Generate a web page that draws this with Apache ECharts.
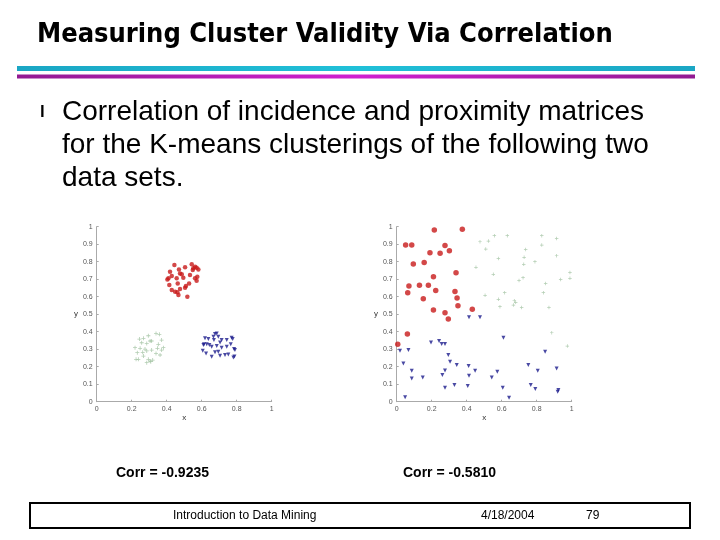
<!DOCTYPE html>
<html style="height: 100%">
<head>
<meta charset="utf-8">
<script src="https://cdn.jsdelivr.net/npm/echarts@6/dist/echarts.min.js"></script>
</head>
<body style="height: 100%; margin: 0; background: #fff">
<div id="container" style="width: 720px; height: 540px"></div>
<script type="text/javascript">

// left data set: three well separated clusters
var redA = [[0.444,0.781],[0.419,0.743],[0.470,0.756],[0.505,0.768],[0.476,0.733],[0.543,0.785],
  [0.552,0.762],[0.571,0.766],[0.581,0.756],[0.562,0.771],[0.410,0.705],[0.429,0.718],[0.457,0.705],
  [0.495,0.709],[0.533,0.724],[0.562,0.705],[0.571,0.691],[0.404,0.699],[0.415,0.667],[0.463,0.676],
  [0.510,0.661],[0.528,0.676],[0.448,0.629],[0.467,0.610],[0.476,0.644],[0.505,0.651],[0.518,0.600],
  [0.429,0.638],[0.486,0.728],[0.549,0.752],[0.575,0.714],[0.461,0.625]];
var greenA = [[0.244,0.358],[0.267,0.362],[0.295,0.377],[0.339,0.390],[0.358,0.385],[0.305,0.347],
  [0.257,0.337],[0.286,0.333],[0.314,0.347],[0.371,0.352],[0.219,0.309],[0.248,0.305],[0.276,0.301],
  [0.314,0.295],[0.347,0.305],[0.371,0.295],[0.232,0.280],[0.263,0.282],[0.286,0.290],[0.339,0.276],
  [0.362,0.267],[0.225,0.242],[0.238,0.242],[0.295,0.242],[0.305,0.232],[0.320,0.238],[0.286,0.223],
  [0.309,0.229],[0.352,0.328],[0.381,0.309],[0.267,0.261]];
var blueA = [[0.619,0.362],[0.638,0.358],[0.667,0.371],[0.676,0.387],[0.686,0.390],[0.695,0.371],
  [0.714,0.352],[0.743,0.352],[0.771,0.366],[0.777,0.358],[0.610,0.324],[0.629,0.328],[0.644,0.324],
  [0.657,0.314],[0.686,0.318],[0.714,0.309],[0.743,0.314],[0.766,0.328],[0.790,0.295],[0.785,0.301],
  [0.606,0.291],[0.625,0.276],[0.657,0.257],[0.676,0.282],[0.695,0.286],[0.705,0.263],[0.733,0.267],
  [0.752,0.270],[0.781,0.253],[0.787,0.259],[0.613,0.328],[0.670,0.352],[0.705,0.339]];

// right data set: random points, clustered anyway
var redB = [[0.215,0.981],[0.375,0.985],[0.051,0.895],[0.086,0.895],[0.276,0.893],[0.301,0.863],
  [0.190,0.851],[0.248,0.848],[0.095,0.787],[0.157,0.796],[0.339,0.737],[0.210,0.714],[0.070,0.661],
  [0.130,0.665],[0.181,0.665],[0.223,0.636],[0.333,0.630],[0.063,0.623],[0.152,0.589],[0.345,0.592],
  [0.350,0.549],[0.432,0.528],[0.210,0.524],[0.276,0.509],[0.295,0.472],[0.061,0.387],[0.006,0.328]];
var greenB = [[0.476,0.914],[0.524,0.918],[0.558,0.949],[0.632,0.949],[0.509,0.872],[0.453,0.768],
  [0.581,0.819],[0.552,0.728],[0.737,0.870],[0.728,0.825],[0.726,0.785],[0.790,0.800],[0.829,0.949],
  [0.829,0.895],[0.914,0.933],[0.914,0.834],[0.990,0.739],[0.990,0.705],[0.937,0.699],[0.722,0.709],
  [0.699,0.693],[0.851,0.676],[0.838,0.623],[0.617,0.623],[0.505,0.608],[0.581,0.585],[0.590,0.543],
  [0.672,0.577],[0.680,0.568],[0.667,0.552],[0.714,0.539],[0.870,0.539],[0.886,0.394],[0.975,0.318]];
var blueB = [[0.476,0.482],[0.413,0.482],[0.019,0.291],[0.067,0.295],[0.196,0.339],[0.242,0.347],
  [0.257,0.330],[0.276,0.330],[0.610,0.366],[0.038,0.219],[0.295,0.267],[0.305,0.229],[0.086,0.177],
  [0.276,0.179],[0.343,0.210],[0.411,0.204],[0.448,0.177],[0.261,0.152],[0.086,0.133],[0.149,0.139],
  [0.413,0.149],[0.575,0.171],[0.543,0.139],[0.330,0.095],[0.276,0.080],[0.406,0.090],[0.048,0.025],
  [0.606,0.080],[0.642,0.023],[0.848,0.286],[0.752,0.210],[0.806,0.177],[0.914,0.190],[0.766,0.095],
  [0.792,0.072],[0.924,0.067],[0.920,0.057]];

var corrLabels = ['Corr = -0.9235', 'Corr = -0.5810'];
var footer = ['Introduction to Data Mining', '4/18/2004', '79'];

var myChart = echarts.init(document.getElementById('container'));

var plus = 'path://M4,0H6V4H10V6H6V10H4V6H0V4H4Z';

function xAxisFor(i) {
    return {
        gridIndex: i, type: 'value', min: 0, max: 1, interval: 0.2,
        name: 'x', nameLocation: 'middle', nameGap: 11,
        nameTextStyle: {fontSize: 8, color: '#333', fontFamily: 'Liberation Sans'},
        axisLine: {lineStyle: {color: '#aaa'}},
        axisTick: {inside: true, length: 2, lineStyle: {color: '#aaa'}},
        axisLabel: {fontSize: 7, color: '#555', margin: 4, fontFamily: 'Liberation Sans',
            formatter: function (v) { return +v.toFixed(1) + ''; }},
        splitLine: {show: false}
    };
}
function yAxisFor(i) {
    return {
        gridIndex: i, type: 'value', min: 0, max: 1, interval: 0.1,
        name: 'y', nameLocation: 'middle', nameRotate: 0, nameGap: 16,
        nameTextStyle: {fontSize: 8, color: '#333', fontFamily: 'Liberation Sans'},
        axisLine: {lineStyle: {color: '#aaa'}},
        axisTick: {inside: true, length: 2, lineStyle: {color: '#aaa'}},
        axisLabel: {fontSize: 7, color: '#555', margin: 4, fontFamily: 'Liberation Sans',
            formatter: function (v) { return +v.toFixed(1) + ''; }},
        splitLine: {show: false}
    };
}
function pts(i, data, kind, size) {
    var s = {type: 'scatter', xAxisIndex: i, yAxisIndex: i, data: data, silent: true, symbolSize: size};
    if (kind === 'red') {
        s.symbol = 'circle'; s.itemStyle = {color: '#c81a1a'};
    } else if (kind === 'blue') {
        s.symbol = 'triangle'; s.symbolRotate = 180; s.itemStyle = {color: '#1c1c8c'};
    } else {
        s.symbol = plus; s.itemStyle = {color: '#9fc09f'};
    }
    return s;
}

var option = {
    backgroundColor: '#fff',
    animation: false,
    grid: [
        {left: 96.7, top: 226.7, width: 175, height: 175},
        {left: 396.7, top: 226.7, width: 175, height: 175}
    ],
    xAxis: [xAxisFor(0), xAxisFor(1)],
    yAxis: [yAxisFor(0), yAxisFor(1)],
    series: [
        pts(0, greenA, 'green', 4), pts(0, blueA, 'blue', 4), pts(0, redA, 'red', 4.5),
        pts(1, greenB, 'green', 3.5), pts(1, blueB, 'blue', 4), pts(1, redB, 'red', 5.5)
    ],
    graphic: [
        {type: 'text', style: {text: 'Measuring Cluster Validity Via Correlation', x: 37, y: 35,
            textVerticalAlign: 'middle', fill: '#000', font: 'bold 27px "DejaVu Sans Condensed"'}},
        {type: 'rect', shape: {x: 17, y: 66, width: 678, height: 5},
            style: {fill: {type: 'linear', x: 0, y: 0, x2: 1, y2: 0,
                colorStops: [{offset: 0, color: '#1aa6c4'}, {offset: 0.5, color: '#20c0d8'}, {offset: 1, color: '#1aa6c4'}]}}},
        {type: 'rect', shape: {x: 17, y: 74.5, width: 678, height: 4},
            style: {fill: {type: 'linear', x: 0, y: 0, x2: 1, y2: 0,
                colorStops: [{offset: 0, color: '#921a92'}, {offset: 0.5, color: '#d020d0'}, {offset: 1, color: '#921a92'}]}}},
        {type: 'text', style: {text: 'l', x: 40, y: 112, textVerticalAlign: 'middle',
            fill: '#000', font: 'bold 17px "Liberation Sans"'}},
        {type: 'text', style: {text: 'Correlation of incidence and proximity matrices\nfor the K-means clusterings of the following two\ndata sets.',
            x: 62, y: 95.5, lineHeight: 33, fill: '#000', font: '28px "Liberation Sans"'}},
        {type: 'text', style: {text: corrLabels[0], x: 116, y: 473, textVerticalAlign: 'middle',
            fill: '#000', font: 'bold 14px "Liberation Sans"'}},
        {type: 'text', style: {text: corrLabels[1], x: 403, y: 473, textVerticalAlign: 'middle',
            fill: '#000', font: 'bold 14px "Liberation Sans"'}},
        {type: 'rect', shape: {x: 30, y: 503, width: 660, height: 25},
            style: {fill: '#fff', stroke: '#000', lineWidth: 2}},
        {type: 'text', style: {text: footer[0], x: 173, y: 516, textVerticalAlign: 'middle',
            fill: '#000', font: '12px "Liberation Sans"'}},
        {type: 'text', style: {text: footer[1], x: 481, y: 516, textVerticalAlign: 'middle',
            fill: '#000', font: '12px "Liberation Sans"'}},
        {type: 'text', style: {text: footer[2], x: 586, y: 516, textVerticalAlign: 'middle',
            fill: '#000', font: '12px "Liberation Sans"'}}
    ]
};

myChart.setOption(option);
</script>
</body>
</html>
